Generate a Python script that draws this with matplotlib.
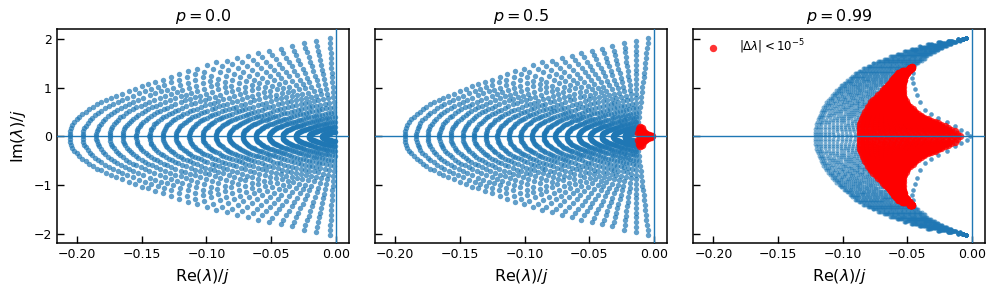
import numpy as np
import matplotlib
matplotlib.use("Agg")
import matplotlib.pyplot as plt

# ---- p = 0.0 : outer edge of the spectrum, one point per ray (upper half, axis -> top)
edge0_re = [-0.2058, -0.2057, -0.2054, -0.2046, -0.2036, -0.2020, -0.2003, -0.1982, -0.1959, -0.1934,
            -0.1907, -0.1877, -0.1846, -0.1813, -0.1774, -0.1738, -0.1697, -0.1653, -0.1600, -0.1550,
            -0.1500, -0.1448, -0.1396, -0.1337, -0.1273, -0.1209, -0.1144, -0.1075, -0.0998, -0.0926,
            -0.0843, -0.0762, -0.0677, -0.0600, -0.0515, -0.0427, -0.0342, -0.0247, -0.0149, -0.0047]
edge0_im = [0.000, 0.050, 0.115, 0.180, 0.230, 0.290, 0.350, 0.400, 0.460, 0.505,
            0.560, 0.610, 0.660, 0.700, 0.745, 0.790, 0.835, 0.880, 0.940, 0.985,
            1.030, 1.070, 1.115, 1.170, 1.220, 1.290, 1.347, 1.390, 1.460, 1.520,
            1.560, 1.610, 1.660, 1.710, 1.760, 1.800, 1.850, 1.920, 1.960, 2.020]
# fraction of the way out along each ray for the 20 arcs
arc_frac = [0.05, 0.10, 0.15, 0.20, 0.25, 0.30, 0.35, 0.40, 0.45, 0.50,
            0.55, 0.60, 0.65, 0.70, 0.75, 0.80, 0.85, 0.90, 0.95, 1.00]

# ---- p = 0.5 : rays squeezed in Re and pulled onto a shifted centre
squeeze_05 = 0.937
centre_05 = -0.0135
red05_re = [-0.0120, -0.0118, -0.0105, -0.0092, -0.0082, -0.0072, -0.0060, -0.0048, -0.0035, -0.0022,
            -0.0012, -0.0100, -0.0085, -0.0065, -0.0110]
red05_im = [0.080, 0.150, 0.190, 0.170, 0.120, 0.080, 0.050, 0.035, 0.020, 0.010,
            0.000, 0.110, 0.060, 0.000, 0.030]

# ---- p = 0.99 : crescent (upper half, axis -> tip), row j of each list belongs together
outer99_re = [-0.1216, -0.1216, -0.1214, -0.1212, -0.1209, -0.1205, -0.1199, -0.1193, -0.1186, -0.1177,
              -0.1167, -0.1160, -0.1150, -0.1139, -0.1126, -0.1113, -0.1099, -0.1083, -0.1067, -0.1050,
              -0.1032, -0.1013, -0.0992, -0.0970, -0.0947, -0.0925, -0.0907, -0.0875, -0.0843, -0.0808,
              -0.0770, -0.0725, -0.0680, -0.0632, -0.0580, -0.0525, -0.0470, -0.0410, -0.0345, -0.0265,
              -0.0190, -0.0110, -0.0075, -0.0046]
outer99_im = [0.00, 0.05, 0.10, 0.15, 0.20, 0.25, 0.30, 0.35, 0.40, 0.45,
              0.50, 0.55, 0.60, 0.65, 0.70, 0.75, 0.80, 0.85, 0.90, 0.95,
              1.00, 1.05, 1.10, 1.15, 1.20, 1.25, 1.30, 1.35, 1.40, 1.45,
              1.50, 1.55, 1.60, 1.65, 1.70, 1.75, 1.80, 1.85, 1.90, 1.94,
              1.97, 2.00, 2.01, 2.02]
inner99_re = [-0.0095, -0.0115, -0.0135, -0.0161, -0.0187, -0.0212, -0.0238, -0.0262, -0.0290, -0.0316,
              -0.0343, -0.0370, -0.0393, -0.0416, -0.0438, -0.0460, -0.0483, -0.0501, -0.0513, -0.0525,
              -0.0535, -0.0535, -0.0535, -0.0531, -0.0524, -0.0516, -0.0500, -0.0482, -0.0465, -0.0440,
              -0.0415, -0.0390, -0.0365, -0.0345, -0.0320, -0.0290, -0.0260, -0.0230, -0.0195, -0.0160,
              -0.0125, -0.0095, -0.0070, -0.0046]
inner99_im = [0.000, 0.056, 0.107, 0.140, 0.174, 0.207, 0.239, 0.267, 0.294, 0.323,
              0.351, 0.379, 0.418, 0.464, 0.511, 0.558, 0.605, 0.661, 0.729, 0.797,
              0.867, 0.942, 1.018, 1.094, 1.166, 1.240, 1.294, 1.357, 1.420, 1.460,
              1.500, 1.550, 1.600, 1.650, 1.700, 1.740, 1.780, 1.820, 1.860, 1.900,
              1.940, 1.970, 2.000, 2.020]
redleft99_re = [-0.0870, -0.0870, -0.0870, -0.0869, -0.0868, -0.0865, -0.0860, -0.0854, -0.0846, -0.0836,
                -0.0825, -0.0814, -0.0803, -0.0792, -0.0780, -0.0766, -0.0745, -0.0724, -0.0707, -0.0690,
                -0.0673, -0.0654, -0.0635, -0.0620, -0.0605, -0.0590, -0.0570, -0.0540, -0.0480]
redleft99_im = [0.00, 0.05, 0.10, 0.15, 0.20, 0.25, 0.30, 0.35, 0.40, 0.45,
                0.50, 0.55, 0.60, 0.65, 0.70, 0.75, 0.80, 0.85, 0.90, 0.95,
                1.00, 1.05, 1.10, 1.15, 1.20, 1.25, 1.30, 1.35, 1.40]
thin99_re = [-0.0015, -0.0042, -0.0085, -0.0132, -0.0195, -0.0260, -0.0315, -0.0363, -0.0400, -0.0427,
             -0.0445, -0.0460, -0.0465, -0.0455]
thin99_im = [0.000, 0.070, 0.140, 0.205, 0.290, 0.376, 0.460, 0.547, 0.700, 0.855,
             0.980, 1.095, 1.200, 1.300]
band_frac = [0.00, 0.03, 0.06, 0.09, 0.12, 0.15, 0.18, 0.21, 0.24, 0.27, 0.30, 0.33, 0.36,
             0.39, 0.42, 0.45, 0.48, 0.51, 0.54, 0.57, 0.60, 0.63, 0.66, 0.69, 0.72, 0.75,
             0.78, 0.81, 0.84, 0.87, 0.90, 0.93, 0.96, 0.98, 1.00]
red_frac = [0.00, 0.06, 0.12, 0.18, 0.24, 0.30, 0.36, 0.42, 0.48, 0.54, 0.60, 0.66, 0.72,
            0.78, 0.84, 0.90, 0.95, 1.00]

titles = ["$p = 0.0$", "$p = 0.5$", "$p = 0.99$"]
BLUE = "#1f77b4"


def mirror(re, im):
    re = np.asarray(re, float)
    im = np.asarray(im, float)
    keep = im > 0
    return np.concatenate([re, re[keep]]), np.concatenate([im, -im[keep]])


def fan(c_re, c_im, e_re, e_im, fracs):
    # points along straight segments from (c) to (e)
    c_re, c_im, e_re, e_im = map(lambda a: np.asarray(a, float), (c_re, c_im, e_re, e_im))
    f = np.asarray(fracs, float)[:, None]
    return (c_re + f * (e_re - c_re)).ravel(), (c_im + f * (e_im - c_im)).ravel()


def style_axis(ax, title):
    ax.axhline(0, color=BLUE, lw=1.0, zorder=5)
    ax.axvline(0, color=BLUE, lw=1.0, zorder=5)
    ax.set_title(title, fontsize=11.5)
    ax.set_xlabel("Re$(\\lambda)/j$", fontsize=11.5)
    ax.tick_params(direction="in", length=5, width=1, labelsize=9)
    ax.set_xticks([-0.20, -0.15, -0.10, -0.05, 0.00])
    ax.set_yticks([-2, -1, 0, 1, 2])
    for s in ax.spines.values():
        s.set_linewidth(1.1)


def main():
    fig, axes = plt.subplots(1, 3, figsize=(9.96, 2.94), dpi=100, sharex=True, sharey=True)
    fig.subplots_adjust(left=0.057, right=0.989, bottom=0.172, top=0.900, wspace=0.09)

    # p = 0.0
    ax = axes[0]
    er, ei = mirror(edge0_re, edge0_im)
    x, y = fan(0.0, 0.0, er, ei, arc_frac)
    ax.scatter(x, y, s=15, color=BLUE, alpha=0.7, lw=0)
    style_axis(ax, titles[0])
    ax.set_ylabel("Im$(\\lambda)/j$", fontsize=11.5)

    # p = 0.5
    ax = axes[1]
    x, y = fan(centre_05, 0.0, er * squeeze_05, ei, arc_frac)
    ax.scatter(x, y, s=15, color=BLUE, alpha=0.7, lw=0)
    rr, ri = mirror(red05_re, red05_im)
    ax.scatter(rr, ri, s=30, color="red", alpha=0.85, lw=0)
    style_axis(ax, titles[1])

    # p = 0.99
    ax = axes[2]
    orr, oi = mirror(outer99_re, outer99_im)
    irr, ii = mirror(inner99_re, inner99_im)
    x, y = fan(irr, ii, orr, oi, band_frac)
    ax.scatter(x, y, s=8, color=BLUE, alpha=0.55, lw=0)
    tr, ti = mirror(thin99_re, thin99_im)
    ax.scatter(tr, ti, s=11, color=BLUE, alpha=0.75, lw=0)
    n = len(redleft99_re)
    lr, li = mirror(redleft99_re, redleft99_im)
    gr, gi = mirror(inner99_re[:n], inner99_im[:n])
    x, y = fan(gr, gi, lr, li, red_frac)
    ax.scatter(x, y, s=28, color="red", alpha=0.8, lw=0, label="$|\\Delta\\lambda| < 10^{-5}$")
    style_axis(ax, titles[2])
    ax.legend(loc="upper left", frameon=False, fontsize=8.5, handletextpad=1.2,
              borderaxespad=0.3)

    ax.set_xlim(-0.2157, 0.0100)
    ax.set_ylim(-2.2, 2.2)
    fig.savefig("out.png", dpi=100)
    plt.close(fig)


if __name__ == "__main__":
    main()
